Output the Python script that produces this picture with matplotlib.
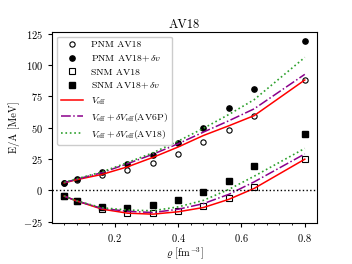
import matplotlib
matplotlib.use("Agg")
import matplotlib.pyplot as plt
from matplotlib.ticker import AutoMinorLocator

plt.rcParams["font.family"] = "serif"
plt.rcParams["font.serif"] = ["cmr10", "DejaVu Serif"]
plt.rcParams["mathtext.fontset"] = "cm"
plt.rcParams["axes.formatter.use_mathtext"] = True
plt.rcParams["axes.unicode_minus"] = False

# 密度点
rho = [0.04, 0.08, 0.16, 0.24, 0.32, 0.40, 0.48, 0.56, 0.64, 0.80]

# 数据点
pnm_av18 = [6.0, 8.3, 12.0, 16.5, 22.0, 29.0, 38.5, 48.5, 59.2, 87.8]
pnm_av18_dv = [6.3, 8.8, 14.6, 21.3, 28.5, 38.0, 50.0, 65.8, 80.7, 119.0]
snm_av18 = [-4.5, -8.4, -14.9, -17.8, -18.2, -16.2, -12.5, -5.8, 2.4, 25.0]
snm_av18_dv = [-4.5, -8.4, -12.8, -14.0, -11.8, -7.6, -1.0, 7.9, 19.1, 44.8]

# 曲线
veff_pnm = [6.0, 8.6, 12.8, 18.8, 26.3, 34.6, 43.8, 51.5, 59.6, 88.0]
veff_av6p_pnm = [6.2, 9.0, 14.2, 21.3, 28.8, 37.2, 46.5, 55.5, 65.0, 92.5]
veff_av18_pnm = [6.4, 9.3, 14.8, 22.2, 30.0, 39.3, 49.5, 60.5, 72.3, 106.0]
veff_snm = [-4.5, -8.4, -14.9, -18.1, -18.9, -17.0, -13.6, -7.1, 1.6, 24.9]
veff_av6p_snm = [-4.5, -8.4, -14.3, -16.6, -17.6, -15.0, -10.5, -3.1, 6.8, 29.1]
veff_av18_snm = [-4.4, -8.3, -13.8, -15.6, -16.2, -13.1, -7.9, 0.8, 11.3, 33.5]

fig = plt.figure(figsize=(3.52, 2.64), dpi=100)
ax = fig.add_axes([0.148, 0.155, 0.752, 0.725])

ms = 3.8
ax.plot(rho, pnm_av18, "o", mfc="white", mec="black", ms=ms, mew=0.8, label="PNM AV18")
ax.plot(rho, pnm_av18_dv, "o", color="black", ms=ms, label=r"PNM AV18$+\,\delta v$")
ax.plot(rho, snm_av18, "s", mfc="white", mec="black", ms=ms, mew=0.8, label="SNM AV18")
ax.plot(rho, snm_av18_dv, "s", color="black", ms=ms, label=r"SNM AV18$+\,\delta v$")

ax.plot(rho, veff_pnm, "-", color="red", lw=1.1, label=r"$V_{\rm eff}$")
ax.plot(rho, veff_av6p_pnm, "-.", color="darkmagenta", lw=1.1,
        label=r"$V_{\rm eff}+\delta V_{\rm eff}$(AV6P)")
ax.plot(rho, veff_av18_pnm, ":", color="#2ca02c", lw=1.2,
        label=r"$V_{\rm eff}+\delta V_{\rm eff}$(AV18)")
ax.plot(rho, veff_snm, "-", color="red", lw=1.1)
ax.plot(rho, veff_av6p_snm, "-.", color="darkmagenta", lw=1.1)
ax.plot(rho, veff_av18_snm, ":", color="#2ca02c", lw=1.2)

ax.axhline(0, color="black", ls=":", lw=1.0)

ax.set_xticks([0.2, 0.4, 0.6, 0.8])
ax.set_yticks([-25, 0, 25, 50, 75, 100, 125])
ax.set_ylim(-26, 126.5)
ax.xaxis.set_minor_locator(AutoMinorLocator(5))
ax.tick_params(labelsize=7.5, length=3)
ax.tick_params(which="minor", length=1.6)

ax.set_xlabel(r"$\varrho$ [fm$^{-3}$]", fontsize=7.5, labelpad=1)
ax.set_ylabel("E/A [MeV]", fontsize=7.5, labelpad=2)
ax.set_title("AV18", fontsize=9, pad=3)

ax.legend(loc="upper left", fontsize=7, handlelength=2.3, labelspacing=0.42,
          borderpad=0.4, handletextpad=0.8, framealpha=1.0, edgecolor="#cccccc")

fig.savefig("out.png", dpi=100)
